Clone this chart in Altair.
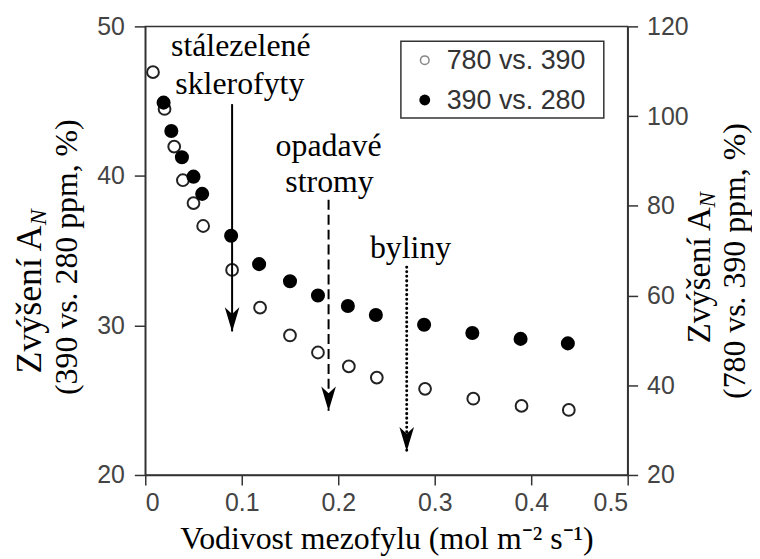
import altair as alt
import pandas as pd

# ---- data ----
x_780 = [0.008, 0.020, 0.030, 0.039, 0.050, 0.060, 0.090, 0.119, 0.150, 0.179, 0.211, 0.240, 0.290, 0.340, 0.390, 0.439]
y_780 = [109.8, 101.6, 93.2, 85.7, 80.6, 75.5, 65.7, 57.3, 51.1, 47.3, 44.2, 41.7, 39.2, 37.0, 35.4, 34.5]

x_390 = [0.019, 0.027, 0.038, 0.050, 0.059, 0.089, 0.118, 0.150, 0.179, 0.210, 0.239, 0.289, 0.339, 0.389, 0.438]
y_390 = [44.9, 43.0, 41.25, 39.95, 38.8, 36.0, 34.1, 32.95, 32.0, 31.3, 30.7, 30.05, 29.5, 29.1, 28.8]

arrow_x = [0.09, 0.19, 0.271]
arrow_top = [44.8, 38.4, 33.9]
arrow_tip = [29.6, 24.3, 21.6]
arrow_style = ["solid", "dashed", "dotted"]

label_text = ["stálezelené", "sklerofyty", "opadavé", "stromy", "byliny"]
label_x = [0.099, 0.098, 0.19, 0.191, 0.275]
label_y = [48.0, 45.45, 41.35, 38.9, 34.5]

series_names = ["780 vs. 390", "390 vs. 280"]
x_ticks = [0, 0.1, 0.2, 0.3, 0.4, 0.5]
yl_ticks = [20, 30, 40, 50]
yr_ticks = [20, 40, 60, 80, 100, 120]

SERIF = "Liberation Serif"
SANS = "Liberation Sans"
AX = "#333333"
LAB = "#444444"

df_780 = pd.DataFrame({"x": x_780, "y": y_780})
df_390 = pd.DataFrame({"x": x_390, "y": y_390})
df_arrow = pd.DataFrame({"x": arrow_x, "top": arrow_top, "tip": arrow_tip, "style": arrow_style})
df_lab = pd.DataFrame({"x": label_x, "y": label_y, "t": label_text})

axis_common = dict(grid=False, domainColor=AX, domainWidth=1.5, tickColor=AX, tickWidth=1.5,
                   labelFont=SANS, labelFontSize=25, labelColor=LAB)

X = alt.X("x:Q", scale=alt.Scale(domain=[0, 0.5], nice=False, zero=False),
          axis=alt.Axis(values=x_ticks, tickSize=10, labelPadding=6,
                        labelExpr="datum.value == 0 ? '0' : format(datum.value, '.1f')",
                        title="Vodivost mezofylu (mol m⁻² s⁻¹)", titleFont=SERIF, titleFontSize=32,
                        titleFontWeight="normal", titleColor="black", titleBaseline="alphabetic",
                        titleY=74, **axis_common))

LSCALE = alt.Scale(domain=[20, 50], nice=False, zero=False)
LAXIS = alt.Axis(values=yl_ticks, orient="left", tickSize=11, labelPadding=10, title=None, **axis_common)
RSCALE = alt.Scale(domain=[20, 120], nice=False, zero=False)
RAXIS = alt.Axis(values=yr_ticks, orient="right", tickSize=10, labelPadding=9, title=None, **axis_common)


def yl(field):
    return alt.Y(field, type="quantitative", scale=LSCALE, axis=LAXIS)


one = pd.DataFrame({"a": [0]})


def txt(text, x, y, size, angle=0, align="center", baseline="middle", style="normal", color="black", font=SERIF):
    kw = dict(font=font, fontSize=size, align=align, baseline=baseline, color=color, fontStyle=style)
    if angle:
        kw["angle"] = angle
    return alt.Chart(one).mark_text(**kw).encode(x=alt.value(x), y=alt.value(y), text=alt.value(text))


# right-axis series (open circles)
open_pts = alt.Chart(df_780).mark_point(shape="circle", filled=False, size=140, stroke="#222222",
                                        strokeWidth=2, fill="white", fillOpacity=1).encode(
    x=X, y=alt.Y("y:Q", scale=RSCALE, axis=RAXIS))

# left-axis series (filled circles)
filled_pts = alt.Chart(df_390).mark_point(shape="circle", filled=True, size=200, color="black", opacity=1).encode(
    x=X, y=yl("y"))

rule_solid = alt.Chart(df_arrow[df_arrow["style"] == "solid"]).mark_rule(color="black", strokeWidth=2).encode(
    x=X, y=yl("top"), y2="tip:Q")
rule_dash = alt.Chart(df_arrow[df_arrow["style"] == "dashed"]).mark_rule(color="black", strokeWidth=2,
                                                                           strokeDash=[10, 5]).encode(
    x=X, y=yl("top"), y2="tip:Q")
rule_dot = alt.Chart(df_arrow[df_arrow["style"] == "dotted"]).mark_rule(color="black", strokeWidth=3,
                                                                          strokeCap="round",
                                                                          strokeDash=[0.1, 4.5]).encode(
    x=X, y=yl("top"), y2="tip:Q")

heads = alt.Chart(df_arrow).mark_point(shape="M0,1L-0.6,-1L0,-0.45L0.6,-1Z", filled=True, color="black",
                                       size=600, opacity=1, yOffset=-12).encode(x=X, y=yl("tip"))

labels = alt.Chart(df_lab).mark_text(font=SERIF, fontSize=32, align="center", baseline="alphabetic",
                                     color="black").encode(x=X, y=yl("y"), text="t:N")

# legend box
leg_box = alt.Chart(one).mark_rect(fill="white", stroke=AX, strokeWidth=1.5).encode(
    x=alt.value(257), x2=alt.value(461), y=alt.value(15), y2=alt.value(92))
leg_open = alt.Chart(one).mark_point(shape="circle", filled=False, size=75, stroke="#555555", strokeWidth=1.5).encode(
    x=alt.value(281), y=alt.value(34))
leg_fill = alt.Chart(one).mark_point(shape="circle", filled=True, size=120, color="black", opacity=1).encode(
    x=alt.value(281), y=alt.value(74))
leg_t1 = txt(series_names[0], 303, 35, 27, align="left", color=AX, font=SANS)
leg_t2 = txt(series_names[1], 303, 75, 27, align="left", color=AX, font=SANS)

# y-axis titles (rotated text with subscript)
lt1 = txt("Zvýšení A", -116, 200, 36, angle=270, align="right")
lt1n = txt("N", -107, 200, 24, angle=270, align="left", style="italic")
lt2 = txt("(390 vs. 280 ppm, %)", -79, 232, 32, angle=270)
rt1 = txt("Zvýšení A", 558, 182, 33, angle=270, align="right")
rt1n = txt("N", 566, 182, 23, angle=270, align="left", style="italic")
rt2 = txt("(780 vs. 390 ppm, %)", 593, 236, 32, angle=270)

left_group = alt.layer(filled_pts, rule_solid, rule_dash, rule_dot, heads, labels,
                       leg_box, leg_open, leg_fill, leg_t1, leg_t2,
                       lt1, lt1n, lt2, rt1, rt1n, rt2)

chart = alt.layer(open_pts, left_group).resolve_scale(y="independent").properties(
    width=485, height=451,
    autosize=alt.AutoSizeParams(type="none"),
    padding={"left": 138, "top": 17, "right": 125, "bottom": 82},
).configure_view(stroke=AX, strokeWidth=1.5)

chart.save("out.html", embed_options={"renderer": "svg", "actions": False})
